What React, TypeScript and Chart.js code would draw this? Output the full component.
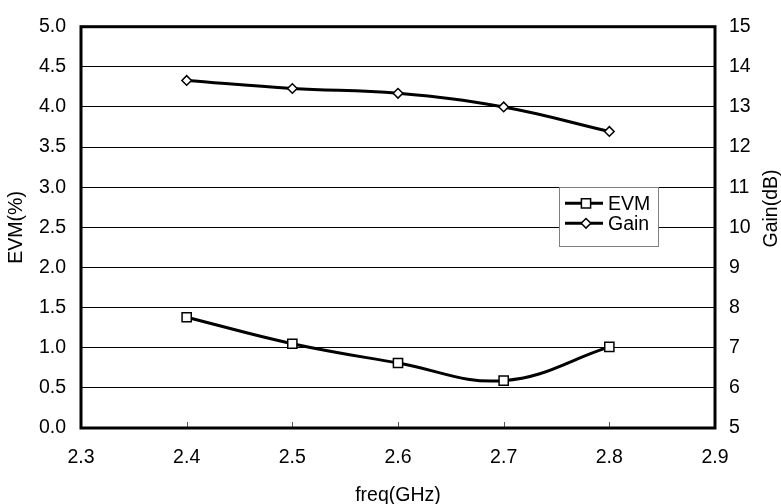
import React, { useEffect, useRef } from "react";
import { Chart, registerables } from "chart.js";

Chart.register(...registerables);

// ---- data ----
const freqs = [2.4, 2.5, 2.6, 2.7, 2.8];
const evmValues = [1.38, 1.05, 0.81, 0.59, 1.01];
const gainValues = [13.66, 13.46, 13.34, 13.0, 12.39];
const seriesNames = ["EVM", "Gain"];
const xTitle = "freq(GHz)";
const yTitle = "EVM(%)";
const y2Title = "Gain(dB)";
const xMin = 2.3;
const xMax = 2.9;
const xStep = 0.1;
const yMin = 0;
const yMax = 5;
const yStep = 0.5;
const y2Min = 5;
const y2Max = 15;
const y2Step = 1;

const FONT_FAMILY = '"Liberation Sans", Arial, Helvetica, sans-serif';
const FONT_SIZE = 19.5;

function drawMarker(ctx: CanvasRenderingContext2D, style: string, x: number, y: number) {
  ctx.save();
  ctx.fillStyle = "#fff";
  ctx.strokeStyle = "#000";
  ctx.lineWidth = 1.5;
  ctx.beginPath();
  if (style === "rect") {
    const s = 4.6;
    ctx.rect(x - s, y - s, 2 * s, 2 * s);
  } else {
    const r = 4.8;
    ctx.moveTo(x - r, y);
    ctx.lineTo(x, y - r);
    ctx.lineTo(x + r, y);
    ctx.lineTo(x, y + r);
    ctx.closePath();
  }
  ctx.fill();
  ctx.stroke();
  ctx.restore();
}

const decorPlugin = {
  id: "decor",
  beforeDatasetsDraw(chart: any) {
    const { ctx, chartArea: a, scales } = chart;
    ctx.save();
    // inner tick marks on the x axis
    ctx.strokeStyle = "#555";
    ctx.lineWidth = 1;
    scales.x.ticks.forEach((t: any) => {
      const px = Math.round(scales.x.getPixelForValue(t.value)) + 0.5;
      if (px > a.left + 3 && px < a.right - 3) {
        ctx.beginPath();
        ctx.moveTo(px, a.bottom);
        ctx.lineTo(px, a.bottom - 6);
        ctx.stroke();
      }
    });
    // plot frame
    ctx.strokeStyle = "#000";
    ctx.lineWidth = 3;
    ctx.strokeRect(a.left, a.top, a.right - a.left, a.bottom - a.top);
    ctx.restore();
  },
  afterDatasetsDraw(chart: any) {
    const { ctx, chartArea: a } = chart;
    ctx.save();
    ctx.font = `${FONT_SIZE}px ${FONT_FAMILY}`;
    ctx.fillStyle = "#000";
    ctx.textAlign = "center";
    ctx.textBaseline = "middle";
    // axis titles
    ctx.fillText(xTitle, (a.left + a.right) / 2, 496);
    ctx.save();
    ctx.translate(16.7, (a.top + a.bottom) / 2);
    ctx.rotate(-Math.PI / 2);
    ctx.fillText(yTitle, 0, 0);
    ctx.restore();
    ctx.save();
    ctx.translate(772, 208.5);
    ctx.rotate(-Math.PI / 2);
    ctx.fillText(y2Title, 0, 0);
    ctx.restore();

    // legend
    const bx = 559.5, by = 187.5, bw = 99, bh = 59;
    ctx.fillStyle = "#fff";
    ctx.fillRect(bx, by, bw, bh);
    ctx.strokeStyle = "#808080";
    ctx.lineWidth = 1;
    ctx.strokeRect(bx, by, bw, bh);
    chart.data.datasets.forEach((ds: any, i: number) => {
      const yy = 203.3 + i * 20;
      ctx.strokeStyle = "#000";
      ctx.lineWidth = 3;
      ctx.beginPath();
      ctx.moveTo(565, yy);
      ctx.lineTo(603, yy);
      ctx.stroke();
      drawMarker(ctx, ds.pointStyle, 586, yy);
      ctx.fillStyle = "#000";
      ctx.textAlign = "left";
      ctx.textBaseline = "middle";
      ctx.fillText(ds.label, 608, yy + 1);
    });
    ctx.restore();
  },
};

export default function App() {
  const ref = useRef<HTMLCanvasElement | null>(null);

  useEffect(() => {
    document.body.style.margin = "0";
    const canvas = ref.current;
    if (!canvas) return;
    const font = { family: FONT_FAMILY, size: FONT_SIZE };
    const chart = new Chart(canvas, {
      type: "line",
      data: {
        datasets: [
          {
            label: seriesNames[0],
            data: freqs.map((f, i) => ({ x: f, y: evmValues[i] })),
            yAxisID: "y",
            borderColor: "#000",
            borderWidth: 3,
            backgroundColor: "#fff",
            pointStyle: "rect",
            pointRadius: 6.5,
            pointBorderWidth: 1.5,
            pointBackgroundColor: "#fff",
            pointBorderColor: "#000",
            tension: 0.4,
            fill: false,
          },
          {
            label: seriesNames[1],
            data: freqs.map((f, i) => ({ x: f, y: gainValues[i] })),
            yAxisID: "y2",
            borderColor: "#000",
            borderWidth: 3,
            backgroundColor: "#fff",
            pointStyle: "rectRot",
            pointRadius: 4.8,
            pointBorderWidth: 1.5,
            pointBackgroundColor: "#fff",
            pointBorderColor: "#000",
            tension: 0.4,
            fill: false,
          },
        ],
      },
      options: {
        responsive: false,
        animation: false,
        devicePixelRatio: 1,
        layout: { padding: { top: 19, left: 0, right: 0, bottom: 0 } },
        plugins: { legend: { display: false }, tooltip: { enabled: false } },
        scales: {
          x: {
            type: "linear",
            position: "bottom",
            min: xMin,
            max: xMax,
            ticks: {
              stepSize: xStep,
              padding: 18,
              color: "#000",
              font,
              autoSkip: false,
              maxRotation: 0,
              callback: (v: any) => Number(v).toFixed(1),
            },
            grid: { display: false, drawTicks: false },
            border: { display: false },
            afterFit: (s: any) => {
              s.height = 76;
            },
          },
          y: {
            type: "linear",
            position: "left",
            min: yMin,
            max: yMax,
            ticks: {
              stepSize: yStep,
              padding: 15,
              color: "#000",
              font,
              callback: (v: any) => Number(v).toFixed(1),
            },
            grid: { color: "#000", lineWidth: 1, drawTicks: false },
            border: { display: false },
            afterFit: (s: any) => {
              s.width = 81;
            },
          },
          y2: {
            type: "linear",
            position: "right",
            min: y2Min,
            max: y2Max,
            ticks: {
              stepSize: y2Step,
              padding: 14,
              color: "#000",
              font,
              callback: (v: any) => String(Math.round(Number(v))),
            },
            grid: { display: false, drawTicks: false },
            border: { display: false },
            afterFit: (s: any) => {
              s.width = 66;
            },
          },
        },
      },
      plugins: [decorPlugin],
    } as any);
    return () => chart.destroy();
  }, []);

  return (
    <div style={{ width: 781, height: 504, background: "#fff" }}>
      <canvas ref={ref} width={781} height={504} style={{ display: "block" }} />
    </div>
  );
}
